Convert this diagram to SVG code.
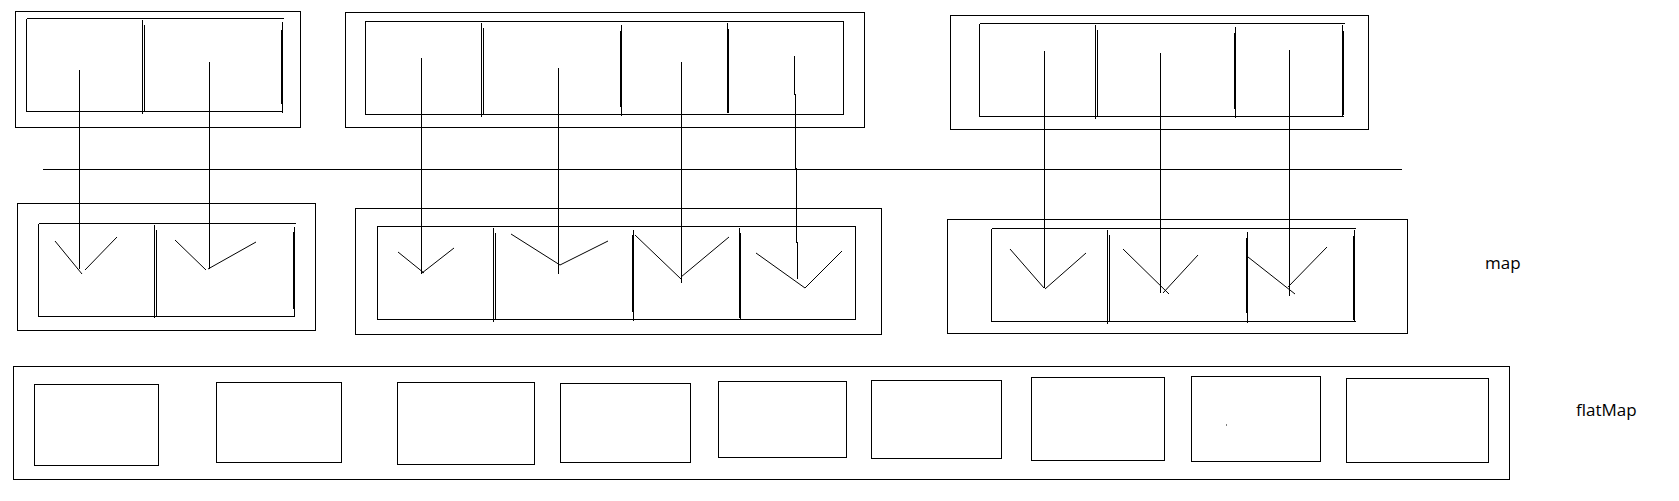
<svg xmlns="http://www.w3.org/2000/svg" width="1679" height="501" viewBox="0 0 1679 501">
<style>
.b{fill:none;stroke:#000;stroke-width:1;shape-rendering:crispEdges}
.l{stroke:#000;stroke-width:1;shape-rendering:crispEdges;fill:none}
.v{stroke:#000;stroke-width:1;fill:none}
.t{font-family:"Open Sans","Noto Sans",sans-serif;font-size:17px;fill:#000}
</style>
<rect width="1679" height="501" fill="#fff"/>
<g id="top1">
<rect class="b" x="15.5" y="11.5" width="285" height="116"/>
<path class="l" d="M26.5,18.5H284M26.5,18.5V111.5H283M282.5,22V113M281.5,30V104M142.5,20V114M144.5,25V111"/>
</g>
<g id="top2">
<rect class="b" x="345.5" y="12.5" width="519" height="115"/>
<rect class="b" x="365.5" y="21.5" width="478" height="93"/>
<path class="l" d="M481.5,23V117M483.5,28V115M620.5,31V107M621.5,25V116M727.5,23V113M728.5,29V113"/>
</g>
<g id="top3">
<rect class="b" x="950.5" y="15.5" width="418" height="114"/>
<path class="l" d="M979.5,23.5H1344.5M979.5,23.5V116.5H1343.5M1342.5,25V117M1343.5,31V115M1095.5,25V119M1097.5,30V117M1234.5,33V109M1235.5,27V118"/>
</g>
<g id="separator">
<path class="l" d="M43,169.5H1402"/>
</g>
<g id="mid1">
<rect class="b" x="17.5" y="203.5" width="298" height="127"/>
<path class="l" d="M38.5,223.5H296M38.5,223.5V316.5H295M294.5,227V317M293.5,232V309M154.5,225V318M156.5,230V317"/>
</g>
<g id="mid2">
<rect class="b" x="355.5" y="208.5" width="526" height="126"/>
<rect class="b" x="377.5" y="226.5" width="478" height="93"/>
<path class="l" d="M493.5,228V322M495.5,233V319M633.5,230V321M632.5,235V312M739.5,228V318M740.5,233V319"/>
</g>
<g id="mid3">
<rect class="b" x="947.5" y="219.5" width="460" height="114"/>
<path class="l" d="M991.5,228.5H1355.5M991.5,228.5V321.5H1355.5M1354.5,230V321.5M1353.5,236V320M1107.5,230V324M1109.5,235V322M1246.5,238V313M1247.5,232V323"/>
</g>
<g id="connectors">
<path class="l" d="M79.5,70V269M209.5,62V269M421.5,58V274M558.5,68V274M681.5,62V283M794.5,56V94H795.5V168H796.5V242H797.5V279M1044.5,51V288M1160.5,53V293M1289.5,50V296"/>
<path class="v" d="M55,241L82,274M85,270L117,237M175,240L206,270M208,269L256,242M398,252L424,273M422,273L454,248M511,234L560,265L608,241M635,235L681,279M681,277L729,237M756,253L805,288L842,251M1010,249L1044,288M1045,289L1086,253M1123,249L1169,294M1163,293L1198,255M1248,257L1295,294M1288,287L1327,247"/>
</g>
<g id="flat">
<rect class="b" x="13.5" y="366.5" width="1496" height="113"/>
<rect class="b" x="34.5" y="384.5" width="124" height="81"/>
<rect class="b" x="216.5" y="382.5" width="125" height="80"/>
<rect class="b" x="397.5" y="382.5" width="137" height="82"/>
<rect class="b" x="560.5" y="383.5" width="130" height="79"/>
<rect class="b" x="718.5" y="381.5" width="128" height="76"/>
<rect class="b" x="871.5" y="380.5" width="130" height="78"/>
<rect class="b" x="1031.5" y="377.5" width="133" height="83"/>
<rect class="b" x="1191.5" y="376.5" width="129" height="85"/>
<rect class="b" x="1346.5" y="378.5" width="142" height="84"/>
<rect x="1226" y="424.5" width="1" height="1" fill="#000"/>
</g>
<g id="labels">
<text class="t" x="1485" y="269">map</text>
<text class="t" x="1576" y="416">flatMap</text>
</g>
</svg>
